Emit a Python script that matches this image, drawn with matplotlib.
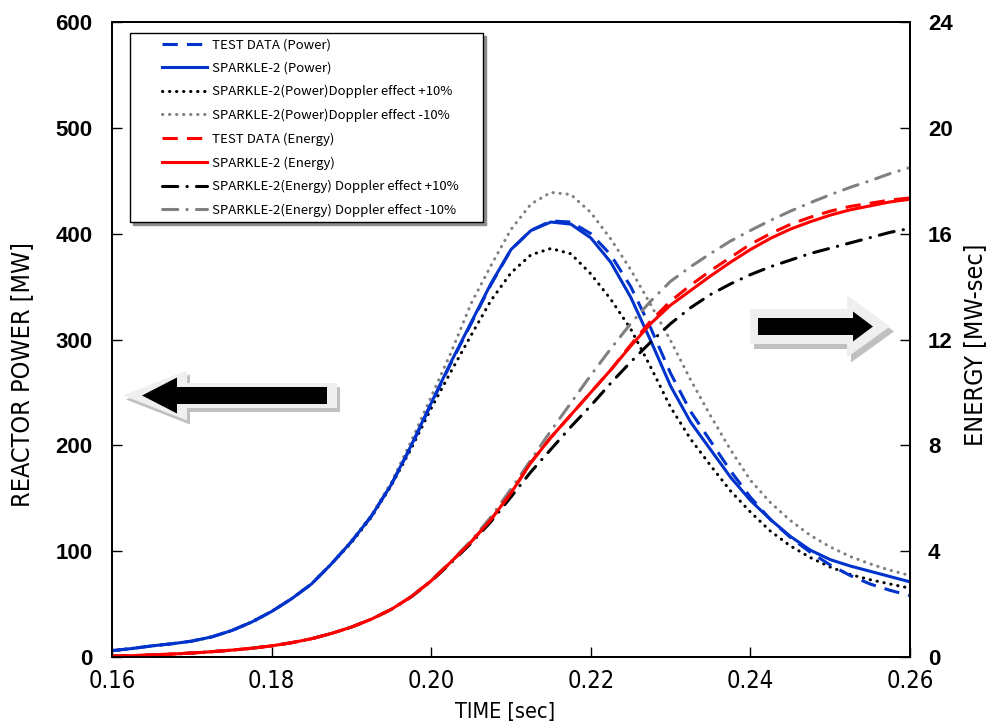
import matplotlib
matplotlib.use('Agg')
import matplotlib.pyplot as plt
from matplotlib import font_manager as fm
from matplotlib.lines import Line2D
from matplotlib.legend_handler import HandlerLine2D
from matplotlib.patches import Polygon

plt.rcParams['font.family'] = ['Liberation Sans', 'DejaVu Sans']

W, H = 992, 727

# ---------------- data ----------------
time = [0.1600, 0.1625, 0.1650, 0.1675, 0.1700, 0.1725, 0.1750, 0.1775, 0.1800, 0.1825,
        0.1850, 0.1875, 0.1900, 0.1925, 0.1950, 0.1975, 0.2000, 0.2025, 0.2050, 0.2075,
        0.2100, 0.2125, 0.2150, 0.2175, 0.2200, 0.2225, 0.2250, 0.2275, 0.2300, 0.2325,
        0.2350, 0.2375, 0.2400, 0.2425, 0.2450, 0.2475, 0.2500, 0.2525, 0.2550, 0.2575,
        0.2600]

# reactor power [MW]
power_test = [6, 8, 10.5, 12.5, 15, 19, 25, 33, 43, 55,
              69, 88, 109, 133, 163, 199, 239, 278, 315, 352,
              385, 403, 412, 411, 400, 380, 350, 311, 268, 232,
              204, 176, 151, 130, 113, 99, 87, 77, 69, 63,
              58]
power_calc = [6, 8, 10.5, 12.5, 15, 19, 25, 33, 43, 55,
              69, 88, 109, 133, 163, 200, 240, 279, 316, 353,
              385, 403, 411, 409, 396, 373, 340, 299, 256, 222,
              196, 170, 148, 130, 114, 101, 92, 86, 81, 76,
              71]
power_dop_p10 = [6, 8, 10.5, 12.5, 15, 19, 25, 33, 43, 55,
                 69, 88, 108, 132, 162, 197, 235, 270, 304, 337,
                 363, 380, 386, 381, 362, 338, 310, 274, 236, 206,
                 181, 157, 137, 119, 105, 94, 85, 78, 73, 69,
                 65]
power_dop_m10 = [6, 8, 10.5, 12.5, 15, 19, 25, 33, 43, 55,
                 69, 88, 110, 134, 165, 204, 246, 288, 334, 370,
                 404, 428, 439, 437, 420, 395, 366, 333, 299, 262,
                 228, 196, 167, 146, 129, 115, 104, 95, 88, 82,
                 77]

# energy [MW-sec]
energy_test = [0.03, 0.05, 0.08, 0.11, 0.15, 0.2, 0.26, 0.33, 0.42, 0.54,
               0.69, 0.89, 1.13, 1.43, 1.8, 2.28, 2.88, 3.6, 4.35, 5.2,
               6.2, 7.35, 8.3, 9.15, 10.0, 10.85, 11.8, 12.7, 13.45, 14.05,
               14.6, 15.1, 15.6, 16.0, 16.35, 16.62, 16.85, 17.03, 17.15, 17.27,
               17.35]
energy_calc = [0.03, 0.05, 0.08, 0.11, 0.15, 0.2, 0.26, 0.33, 0.42, 0.54,
               0.69, 0.89, 1.13, 1.43, 1.8, 2.28, 2.88, 3.6, 4.35, 5.2,
               6.2, 7.35, 8.3, 9.15, 10.0, 10.85, 11.75, 12.6, 13.3, 13.85,
               14.4, 14.92, 15.4, 15.82, 16.17, 16.45, 16.7, 16.9, 17.05, 17.2,
               17.3]
energy_dop_p10 = [0.03, 0.05, 0.08, 0.11, 0.15, 0.2, 0.26, 0.33, 0.42, 0.54,
                  0.69, 0.89, 1.13, 1.43, 1.8, 2.27, 2.86, 3.56, 4.3, 5.12,
                  6.05, 7.0, 7.85, 8.7, 9.5, 10.35, 11.15, 11.9, 12.6, 13.2,
                  13.7, 14.1, 14.45, 14.75, 15.0, 15.25, 15.45, 15.65, 15.85, 16.05,
                  16.2]
energy_dop_m10 = [0.03, 0.05, 0.08, 0.11, 0.15, 0.2, 0.26, 0.33, 0.42, 0.54,
                  0.69, 0.89, 1.13, 1.43, 1.8, 2.29, 2.9, 3.62, 4.4, 5.3,
                  6.35, 7.45, 8.55, 9.6, 10.65, 11.65, 12.6, 13.45, 14.2, 14.75,
                  15.25, 15.72, 16.12, 16.5, 16.85, 17.17, 17.47, 17.75, 18.0, 18.27,
                  18.5]

labels = ['TEST DATA (Power)', 'SPARKLE-2 (Power)',
          'SPARKLE-2(Power)Doppler effect +10%',
          'SPARKLE-2(Power)Doppler effect -10%',
          'TEST DATA (Energy)', 'SPARKLE-2 (Energy)',
          'SPARKLE-2(Energy) Doppler effect +10%',
          'SPARKLE-2(Energy) Doppler effect -10%']

BLUE = '#0033cc'
RED = '#ff0000'
GREY = '#808080'
LW = 2.2
DOT = (0, (0.1, 2.2))
DASH = (0, (5, 3))
DASHDOT = (0, (5, 3, 0.1, 3))


# narrow font for the axis titles / time ticks, if one is installed
def find_narrow():
    best = None
    for f in fm.fontManager.ttflist:
        w = f.weight if isinstance(f.weight, int) else {'normal': 400, 'regular': 400}.get(str(f.weight).lower(), 0)
        if f.style != 'normal' or w != 400:
            continue
        narrow = ('Narrow' in f.name or 'Condensed' in f.name or 'Narrow' in f.fname
                  or 'Condensed' in f.fname or f.stretch in ('condensed', 'semi-condensed'))
        if not narrow:
            continue
        rank = 0 if 'Liberation' in f.name else 1 if 'DejaVu' in f.name else 2
        if best is None or rank < best[0]:
            best = (rank, f.fname)
    return best[1] if best else None


nf = find_narrow()
if nf:
    narrow_fp = lambda s: fm.FontProperties(fname=nf, size=s)
    tick_fp, xlab_fp, ylab_fp = narrow_fp(17), narrow_fp(15.5), narrow_fp(18)
else:
    tick_fp = fm.FontProperties(family=['Liberation Sans'], size=16)
    xlab_fp = fm.FontProperties(family=['Liberation Sans'], size=14)
    ylab_fp = fm.FontProperties(family=['Liberation Sans'], size=16)

fig = plt.figure(figsize=(W / 100, H / 100), dpi=100)
ax = fig.add_axes([112 / W, 1 - 657 / H, 798 / W, 635 / H])
ax2 = ax.twinx()

h = []
h += ax.plot(time, power_dop_p10, color='black', lw=LW, ls=DOT, dash_capstyle='round')
h += ax.plot(time, power_dop_m10, color=GREY, lw=LW, ls=DOT, dash_capstyle='round')
h += ax.plot(time, power_test, color=BLUE, lw=LW, ls=DASH)
h += ax.plot(time, power_calc, color=BLUE, lw=LW)
h += ax2.plot(time, energy_dop_p10, color='black', lw=LW, ls=DASHDOT, dash_capstyle='round')
h += ax2.plot(time, energy_dop_m10, color=GREY, lw=LW, ls=DASHDOT, dash_capstyle='round')
h += ax2.plot(time, energy_test, color=RED, lw=LW, ls=DASH)
h += ax2.plot(time, energy_calc, color=RED, lw=LW)
handles = [h[2], h[3], h[0], h[1], h[6], h[7], h[4], h[5]]

ax.set_xlim(0.16, 0.26)
ax.set_ylim(0, 600)
ax2.set_ylim(0, 24)
ax.set_xticks([0.16, 0.18, 0.20, 0.22, 0.24, 0.26])
ax.set_xticklabels(['0.16', '0.18', '0.20', '0.22', '0.24', '0.26'], fontproperties=tick_fp)
ax.set_yticks(range(0, 601, 100))
ax2.set_yticks(range(0, 25, 4))

ax.tick_params(axis='x', direction='in', length=7, width=1, pad=9)
ax.tick_params(axis='y', direction='in', length=7, width=1, pad=14, labelsize=16)
ax2.tick_params(axis='y', direction='in', length=7, width=1, pad=13, labelsize=16)
for t in ax.get_yticklabels() + ax2.get_yticklabels():
    t.set_fontweight('bold')
for a in (ax, ax2):
    for s in a.spines.values():
        s.set_linewidth(1.3)

ax.set_xlabel('TIME [sec]', fontproperties=xlab_fp)
ax.set_ylabel('REACTOR POWER [MW]', fontproperties=ylab_fp)
ax2.set_ylabel('ENERGY [MW-sec]', fontproperties=ylab_fp)
ax.xaxis.set_label_coords(0.4925, -0.0866)
ax.xaxis.label.set_va('center')
ax.yaxis.set_label_coords(-0.1128, 0.445)
ax.yaxis.label.set_va('center')
ax2.yaxis.set_label_coords(1.0815, 0.491)
ax2.yaxis.label.set_va('center')
ax2.yaxis.label.set_rotation(90)

LEG_FS = 9.5
leg = ax2.legend(handles, labels, loc='upper left', mode='expand',
                 bbox_to_anchor=(130 / W, 1 - 222 / H, 353 / W, 189 / H),
                 bbox_transform=fig.transFigure,
                 borderaxespad=0, fancybox=False, framealpha=1, edgecolor='black',
                 shadow={'color': '0.55', 'alpha': 1},
                 handlelength=5.43, handletextpad=0.38, borderpad=0.4, labelspacing=0.79,
                 handler_map={Line2D: HandlerLine2D(xpad=2.0)},
                 prop={'family': ['Noto Sans CJK JP', 'DejaVu Sans'], 'size': LEG_FS})
leg.get_frame().set_linewidth(1.0)


# big hollow arrows (pixel coords, y downward)
def arrow(tip_x, tip_y, head_x, head_half, shaft_end, shaft_half):
    pts = [(tip_x, tip_y), (head_x, tip_y - head_half), (head_x, tip_y - shaft_half),
           (shaft_end, tip_y - shaft_half), (shaft_end, tip_y + shaft_half),
           (head_x, tip_y + shaft_half), (head_x, tip_y + head_half)]
    return pts


def add_arrow(outer, inner, dx, dy):
    sh = [(x + dx, y + dy) for x, y in outer]
    for pts, col in ((sh, '#c0c0c0'), (outer, '#efefef'), (inner, 'black')):
        fig.patches.append(Polygon([(x / W, 1 - y / H) for x, y in pts], closed=True,
                                   transform=fig.transFigure, facecolor=col,
                                   edgecolor='none', zorder=5))


add_arrow(arrow(123, 395.5, 187, 25, 337, 12.5), arrow(142, 395.5, 177, 18, 327, 8.5), 3, 4)
add_arrow(arrow(890, 326.5, 847, 31, 750, 17.5), arrow(873, 326.5, 853, 15, 758, 8.5), 4, 5)

fig.savefig('out.png', dpi=100)
